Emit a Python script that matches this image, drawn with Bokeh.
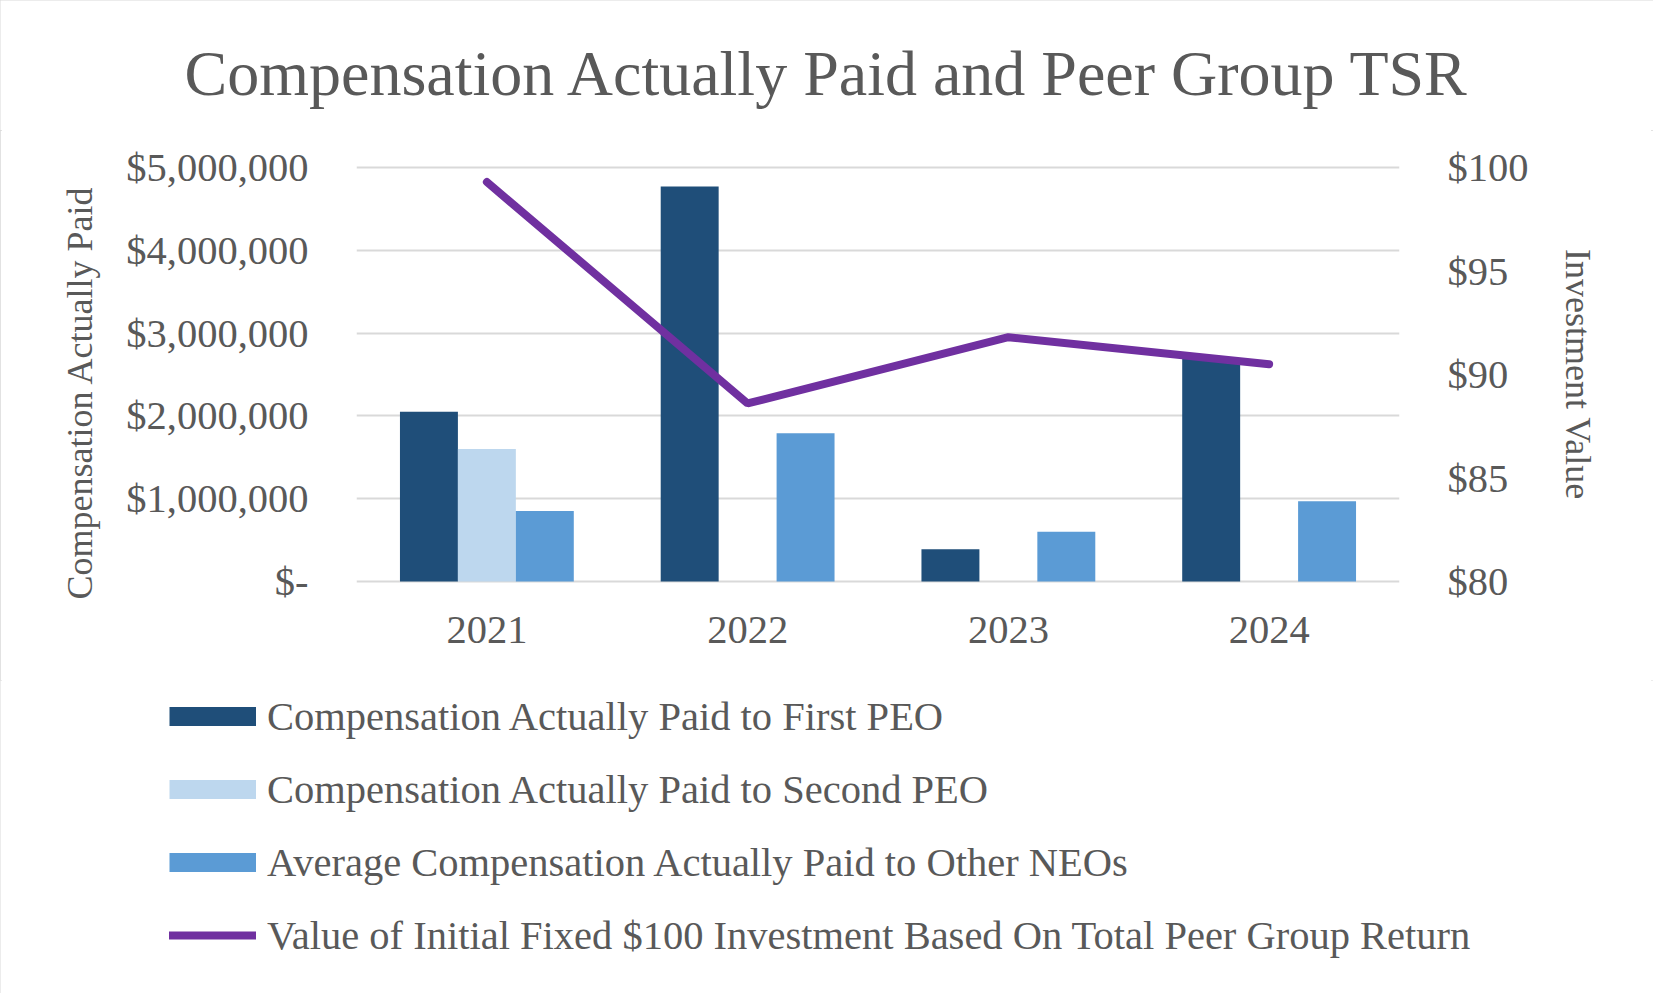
import math
from bokeh.plotting import figure
from bokeh.layouts import column
from bokeh.models import (ColumnDataSource, Range1d, LinearAxis, FixedTicker,
                          Legend, LegendItem, Label)
from bokeh.transform import dodge
from bokeh.embed import file_html
from bokeh.resources import INLINE

# ---------------- data ----------------
years = ["2021", "2022", "2023", "2024"]
cap_first_peo = [2050000, 4770000, 390000, 2700000]
cap_second_peo = [1600000, 0, 0, 0]
cap_other_neos = [850000, 1790000, 600000, 970000]
peer_tsr = [99.3, 88.6, 91.8, 90.5]

left_ticks = [0, 1000000, 2000000, 3000000, 4000000, 5000000]
left_tick_labels = ["$-", "$1,000,000", "$2,000,000", "$3,000,000", "$4,000,000", "$5,000,000"]
right_ticks = [80, 85, 90, 95, 100]
right_tick_labels = ["$80", "$85", "$90", "$95", "$100"]

series_names = [
    "Compensation Actually Paid to First PEO",
    "Compensation Actually Paid to Second PEO",
    "Average Compensation Actually Paid to Other NEOs",
    "Value of Initial Fixed $100 Investment Based On Total Peer Group Return",
]
title_text = "Compensation Actually Paid and Peer Group TSR"
left_title = "Compensation Actually Paid"
right_title = "Investment Value"

# ---------------- styles ----------------
FONT = "Liberation Serif"
TXT = "#595959"
C_FIRST = "#1F4E79"
C_SECOND = "#BDD7EE"
C_OTHER = "#5B9BD5"
C_LINE = "#7030A0"
GRID = "#D9D9D9"

W, H = 1653, 993
H0 = 130                      # title strip
H1 = 680 - H0                 # chart part
H2 = H - H0 - H1              # legend part
PADPX = 3                     # a few pixels so edge gridlines are fully drawn
FL, FW = 356, 1043
FT, FH = 167 - PADPX - H0, 414 + 2 * PADPX


def bare(h):
    f = figure(width=W, height=h, x_range=Range1d(0, W), y_range=Range1d(0, h),
               output_backend="svg", toolbar_location=None,
               x_axis_location=None, y_axis_location=None,
               min_border_left=0, min_border_right=0, min_border_top=0, min_border_bottom=0)
    f.outline_line_color = None
    f.grid.visible = False
    f.background_fill_color = "white"
    f.border_fill_color = "white"
    return f


# ---------------- title strip ----------------
top = bare(H0)
top.add_layout(Label(x=827.5, y=H0 - 96.7 + 24, text=title_text, text_align="center",
                     text_baseline="alphabetic", text_font=FONT, text_font_size="64px",
                     text_color=TXT))

# ---------------- chart ----------------
xpos = [i + 0.5 for i in range(len(years))]   # year i is centred at i + 0.5

lpad = (left_ticks[-1] - left_ticks[0]) * PADPX / 414.0
rpad = (right_ticks[-1] - right_ticks[0]) * PADPX / 414.0

p = figure(width=W, height=H1, x_range=Range1d(0, len(years)),
           y_range=Range1d(left_ticks[0] - lpad, left_ticks[-1] + lpad),
           output_backend="svg", toolbar_location=None,
           min_border_left=FL, min_border_right=W - FL - FW, min_border_top=FT,
           min_border_bottom=H1 - FT - FH)
p.outline_line_color = None
p.background_fill_color = "white"
p.border_fill_color = "white"

p.extra_y_ranges = {"tsr": Range1d(right_ticks[0] - rpad, right_ticks[-1] + rpad)}

src = ColumnDataSource(dict(x=xpos, year=years, first=cap_first_peo, second=cap_second_peo,
                            other=cap_other_neos, tsr=peer_tsr))

bw = 1.0 / 4.5
p.vbar(x=dodge("x", -bw), top="first", width=bw, source=src,
       fill_color=C_FIRST, line_color=None)
p.vbar(x=dodge("x", 0), top="second", width=bw, source=src,
       fill_color=C_SECOND, line_color=None)
p.vbar(x=dodge("x", bw), top="other", width=bw, source=src,
       fill_color=C_OTHER, line_color=None)
p.line(x="x", y="tsr", source=src, y_range_name="tsr", line_color=C_LINE,
       line_width=8, line_cap="round")

p.xgrid.visible = False
p.ygrid.grid_line_color = GRID
p.ygrid.grid_line_width = 2
p.ygrid.ticker = FixedTicker(ticks=left_ticks)

xa = p.xaxis[0]
xa.ticker = FixedTicker(ticks=xpos)
xa.major_label_overrides = {x: y for x, y in zip(xpos, years)}
xa.axis_line_color = None
xa.major_tick_line_color = None
xa.minor_tick_line_color = None
xa.major_tick_out = 0
xa.major_label_standoff = 32
xa.major_label_text_font = FONT
xa.major_label_text_font_size = "40.5px"
xa.major_label_text_color = TXT

ya = p.yaxis[0]
ya.ticker = FixedTicker(ticks=left_ticks)
ya.major_label_overrides = {t: l for t, l in zip(left_ticks, left_tick_labels)}
ya.axis_line_color = None
ya.major_tick_line_color = None
ya.minor_tick_line_color = None
ya.major_tick_out = 0
ya.major_label_standoff = 48
ya.major_label_text_font = FONT
ya.major_label_text_font_size = "40.5px"
ya.major_label_text_color = TXT
ya.axis_label = left_title + "\u00a0" * 4
ya.axis_label_standoff = 23
ya.axis_label_text_font = FONT
ya.axis_label_text_font_size = "36px"
ya.axis_label_text_font_style = "normal"
ya.axis_label_text_color = TXT

ra = LinearAxis(y_range_name="tsr", ticker=FixedTicker(ticks=right_ticks))
ra.major_label_overrides = {t: l for t, l in zip(right_ticks, right_tick_labels)}
ra.axis_line_color = None
ra.major_tick_line_color = None
ra.minor_tick_line_color = None
ra.major_tick_out = 0
ra.major_label_standoff = 48
ra.major_label_text_font = FONT
ra.major_label_text_font_size = "40.5px"
ra.major_label_text_color = TXT
ra.axis_label = right_title
ra.axis_label_standoff = 26
ra.axis_label_text_font = FONT
ra.axis_label_text_font_size = "36px"
ra.axis_label_text_font_style = "normal"
ra.axis_label_text_color = TXT
p.add_layout(ra, "right")

# ---------------- legend part ----------------
q = bare(H2)
nan = float("nan")
px1 = q.line(x=[nan], y=[nan], line_color=C_FIRST, line_width=19, line_cap="butt")
px2 = q.line(x=[nan], y=[nan], line_color=C_SECOND, line_width=19, line_cap="butt")
px3 = q.line(x=[nan], y=[nan], line_color=C_OTHER, line_width=19, line_cap="butt")
px4 = q.line(x=[nan], y=[nan], line_color=C_LINE, line_width=8, line_cap="round")
legend = Legend(items=[LegendItem(label=series_names[0], renderers=[px1]),
                       LegendItem(label=series_names[1], renderers=[px2]),
                       LegendItem(label=series_names[2], renderers=[px3]),
                       LegendItem(label=series_names[3], renderers=[px4])],
                location=(169, 34), orientation="vertical")
legend.background_fill_alpha = 0
legend.border_line_color = None
legend.padding = 0
legend.margin = 0
legend.glyph_width = 87
legend.glyph_height = 48
legend.label_height = 48
legend.spacing = 25
legend.label_standoff = 11
legend.label_text_font = FONT
legend.label_text_font_size = "40.5px"
legend.label_text_color = TXT
q.add_layout(legend)

layout = column(column(top, spacing=0), p, column(q, spacing=0), spacing=0)
layout.styles = {"outline": "2px solid #D9D9D9", "outline-offset": "-2px"}

open("out.html", "w").write(file_html(layout, INLINE))
